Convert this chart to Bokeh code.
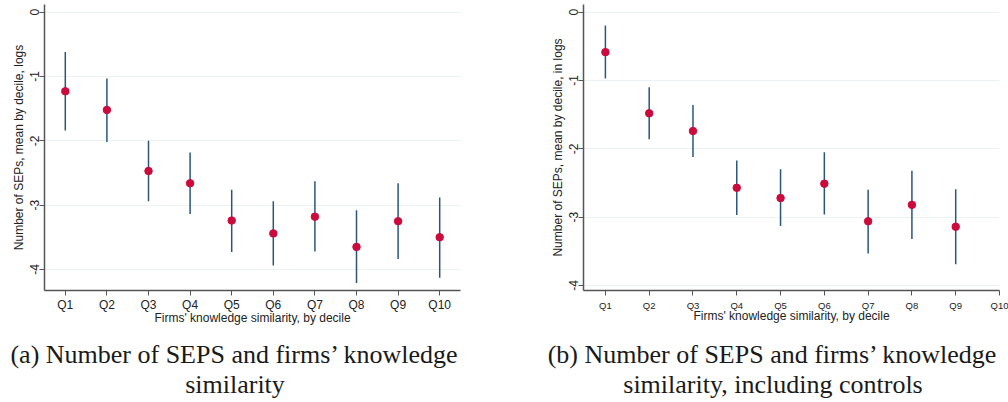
from bokeh.plotting import figure
from bokeh.layouts import row, column
from bokeh.models import Range1d, FixedTicker, ColumnDataSource
from bokeh.core.properties import value
from bokeh.embed import file_html
from bokeh.resources import INLINE

# ---------------- data ----------------
deciles = ["Q1", "Q2", "Q3", "Q4", "Q5", "Q6", "Q7", "Q8", "Q9", "Q10"]

# panel (a)
mean_a = [-1.23, -1.52, -2.47, -2.66, -3.24, -3.44, -3.18, -3.65, -3.25, -3.50]
upper_a = [-0.62, -1.03, -2.00, -2.18, -2.76, -2.94, -2.63, -3.08, -2.66, -2.88]
lower_a = [-1.84, -2.02, -2.94, -3.14, -3.73, -3.94, -3.72, -4.21, -3.84, -4.13]

# panel (b) (no estimate for Q10)
mean_b = [-0.585, -1.48, -1.74, -2.57, -2.72, -2.51, -3.06, -2.82, -3.14]
upper_b = [-0.195, -1.10, -1.36, -2.17, -2.30, -2.05, -2.60, -2.32, -2.59]
lower_b = [-0.97, -1.86, -2.12, -2.97, -3.13, -2.96, -3.53, -3.32, -3.69]

y_ticks = [0, -1, -2, -3, -4]
y_tick_labels = ["0", "-1", "-2", "-3", "-4"]

ytitle_a = "Number of SEPs, mean by decile, logs"
ytitle_b = "Number of SEPs, mean by decile, in logs"
xtitle = "Firms' knowledge similarity, by decile"
caption_a = ["(a) Number of SEPS and firms\u2019 knowledge", "similarity"]
caption_b = ["(b) Number of SEPS and firms\u2019 knowledge", "similarity, including controls"]

DOT = "#cc0a3c"
BAR = "#2a5580"
GRID = "#eaf2f3"
AXIS = "#555555"
SANS = "Liberation Sans"
SERIF = "Liberation Serif"
PLOT_H = 332
FRAME_H = 286


def make_panel(mean, upper, lower, ytitle, xr, yr, width, border_left,
               border_right, xtick_size, lab_standoff, title_standoff):
    n = len(mean)
    xs = list(range(1, n + 1))
    src = ColumnDataSource(dict(x=xs, m=mean, lo=lower, hi=upper))
    p = figure(title=None, output_backend="svg", toolbar_location=None,
               width=width, height=PLOT_H,
               min_border_left=border_left, min_border_right=border_right,
               min_border_top=4, min_border_bottom=PLOT_H - 4 - FRAME_H,
               x_range=Range1d(*xr), y_range=Range1d(*yr))
    p.outline_line_color = None
    p.background_fill_color = "white"
    p.border_fill_color = "white"

    p.segment(x0="x", y0="lo", x1="x", y1="hi", source=src,
              line_color=BAR, line_width=1.5)
    p.scatter(x="x", y="m", source=src, size=7.5, fill_color=DOT,
              line_color=DOT)

    # grid
    p.xgrid.visible = False
    p.ygrid.grid_line_color = GRID
    p.ygrid.grid_line_width = 1.2
    p.ygrid.ticker = FixedTicker(ticks=y_ticks)

    # y axis
    ya = p.yaxis[0]
    ya.ticker = FixedTicker(ticks=y_ticks)
    ya.major_label_overrides = dict(zip(y_ticks, y_tick_labels))
    ya.minor_tick_line_color = None
    ya.major_tick_out = 5
    ya.major_tick_in = 0
    ya.major_label_orientation = "vertical"
    ya.major_label_standoff = 0
    ya.major_label_text_font = SANS
    ya.major_label_text_font_size = "12px"
    ya.major_label_text_color = "#222222"
    ya.axis_label = ytitle
    ya.axis_label_text_font = SANS
    ya.axis_label_text_font_size = "12px"
    ya.axis_label_text_font_style = "normal"
    ya.axis_label_text_color = "#222222"
    ya.axis_label_standoff = 2
    ya.axis_line_color = AXIS
    ya.axis_line_width = 1.5
    ya.major_tick_line_color = AXIS

    # x axis
    xa = p.xaxis[0]
    xa.ticker = FixedTicker(ticks=list(range(1, 11)))
    xa.major_label_overrides = {i + 1: d for i, d in enumerate(deciles)}
    xa.minor_tick_line_color = None
    xa.major_tick_out = 5
    xa.major_tick_in = 0
    xa.major_label_standoff = lab_standoff
    xa.major_label_text_font = SANS
    xa.major_label_text_font_size = xtick_size
    xa.major_label_text_color = "#222222"
    xa.axis_label = xtitle
    xa.axis_label_text_font = SANS
    xa.axis_label_text_font_size = "12px"
    xa.axis_label_text_font_style = "normal"
    xa.axis_label_text_color = "#222222"
    xa.axis_label_standoff = title_standoff
    xa.axis_line_color = AXIS
    xa.axis_line_width = 1.5
    xa.major_tick_line_color = AXIS
    return p


pa = make_panel(mean_a, upper_a, lower_a, ytitle_a,
                (0.5, 10.5), (-4.328, 0.12), 520, 44, 60, "12px", 2, -4)
pb = make_panel(mean_b, upper_b, lower_b, ytitle_b,
                (0.5, 10.0), (-4.073, 0.112), 488, 63, 9, "9.5px", 4, -5)

# caption strip (pixel coordinates of the strip, measured from its bottom)
CAP_H = 402 - PLOT_H
cap = figure(title=None, output_backend="svg", toolbar_location=None,
             width=1008, height=CAP_H, min_border=0,
             x_range=Range1d(0, 1008), y_range=Range1d(0, CAP_H),
             x_axis_type=None, y_axis_type=None)
cap.outline_line_color = None
cap.xgrid.visible = False
cap.ygrid.visible = False
cap_src = ColumnDataSource(dict(
    x=[234.5, 234.5, 772.5, 772.5],
    y=[48, 18, 48, 18],
    t=[caption_a[0], caption_a[1], caption_b[0], caption_b[1]]))
cap.text(x="x", y="y", text="t", source=cap_src, text_align="center",
         text_baseline="alphabetic", text_font=value(SERIF),
         text_font_size=value("26px"), text_color="#1a1a1a")

layout = column(row(pa, pb, spacing=0), cap, spacing=0)
open("out.html", "w").write(file_html(layout, INLINE))
